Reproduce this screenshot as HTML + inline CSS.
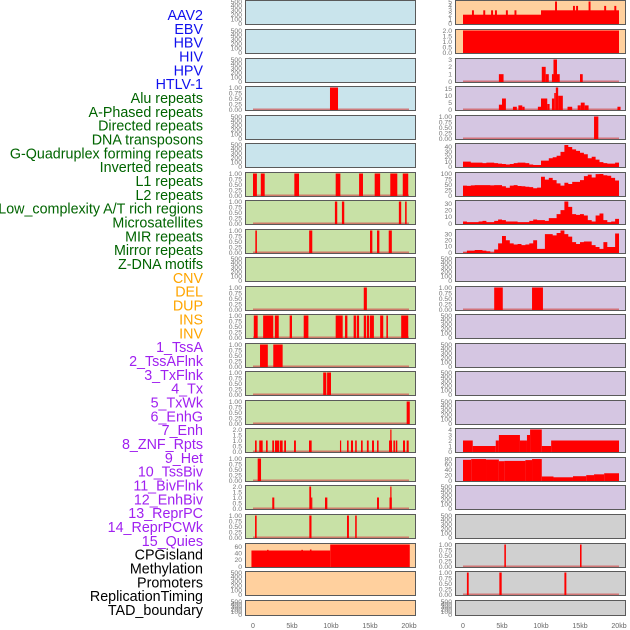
<!DOCTYPE html>
<html><head><meta charset="utf-8"><style>
body{margin:0;background:#fff;width:630px;height:630px;overflow:hidden}
svg{display:block}
</style></head><body>
<svg id="chart" width="630" height="630" viewBox="0 0 630 630" xmlns="http://www.w3.org/2000/svg"></svg>
<script>
// ---- Data (kb coordinates; [start, end, value]) ----
const trackLabels = ["AAV2","EBV","HBV","HIV","HPV","HTLV-1","Alu repeats","A-Phased repeats","Directed repeats","DNA transposons","G-Quadruplex forming repeats","Inverted repeats","L1 repeats","L2 repeats","Low_complexity A/T rich regions","Microsatellites","MIR repeats","Mirror repeats","Z-DNA motifs","CNV","DEL","DUP","INS","INV","1_TssA","2_TssAFlnk","3_TxFlnk","4_Tx","5_TxWk","6_EnhG","7_Enh","8_ZNF_Rpts","9_Het","10_TssBiv","11_BivFlnk","12_EnhBiv","13_ReprPC","14_ReprPCWk","15_Quies","CPGisland","Methylation","Promoters","ReplicationTiming","TAD_boundary"];
const labelGroups = [6,13,5,15,5];
const xTickLabels = ["0","5kb","10kb","15kb","20kb"];
const xTickValues = [0,5,10,15,20];

const L3 = [[9.87,10.9,1]];
const L6 = [[0,0.5,1],[1.0,1.5,1],[5.3,5.9,1],[10.6,11.2,1],[13.6,14.1,1],[15.6,16.3,1],[17.6,18.5,1],[19.2,19.9,1]];
const L7 = [[10.5,10.8,1],[11.4,11.7,1],[18.7,19.0,1],[19.5,19.7,1]];
const L8 = [[0.3,0.5,1],[7.2,7.6,1],[15.0,15.3,1],[15.9,16.2,1],[17.4,17.8,1]];
const L10 = [[14.2,14.6,1]];
const L11 = [[0.1,0.6,1],[1.3,2.6,1],[2.8,3.3,1],[4.7,5.0,1],[6.5,7.1,1],[10.6,11.5,1],[11.8,12.1,1],[12.9,13.2,1],[13.3,13.6,1],[14.2,14.5,1],[14.6,14.9,1],[15.0,15.5,1],[16.3,16.7,1],[17.1,17.3,1],[19.0,19.9,1]];
const L12 = [[0.9,1.9,1],[2.6,3.8,1]];
const L13 = [[9.0,9.4,1],[9.5,10.0,1]];
const L14 = [[19.7,20.1,1]];
const L15 = [[0.26,0.47,1],[0.8,1.24,1],[1.67,1.88,1],[2.47,2.7,1],[2.82,3.37,1],[3.46,3.8,1],[4.0,4.23,1],[5.26,5.5,1],[7.18,7.52,1],[11.15,11.3,1],[12.05,12.26,1],[12.56,12.82,1],[13.1,13.3,1],[13.85,14.06,1],[14.6,14.83,1],[15.26,15.51,1],[15.9,16.1,1],[17.44,17.82,1],[17.6,17.7,2],[18.0,18.2,1],[18.3,18.5,1],[19.23,19.49,1],[19.7,19.96,1]];
const L16 = [[0.6,1.03,1]];
const L17 = [[2.47,2.73,1],[7.22,7.45,2],[7.45,7.6,1],[9.23,9.53,1],[15.9,16.15,1],[17.5,17.8,1],[17.6,17.7,2]];
const L18 = [[0.26,0.47,1],[7.22,7.5,1],[12.05,12.3,1],[13.1,13.3,1]];
const L19 = [[-0.2,9.9,48],[1.8,2.0,50],[6.2,6.4,50],[7.3,7.5,51],[9.9,20.1,66]];

const R0 = [[0,10,2],[10,20,3],[1.15,1.4,3],[2.6,2.85,3],[3.6,3.85,3],[4.1,4.35,3],[5.5,5.75,3],[6.6,6.85,3],[11.8,12.05,5],[14.1,14.35,4],[14.5,14.75,4],[16.1,16.35,5],[18.1,18.35,4],[19.4,19.65,4]];
const R1 = [[0,20,2]];
const R2 = [[4.6,5.2,1],[10.1,10.6,2],[10.6,11.0,1],[11.4,11.6,1],[11.6,12.05,3],[12.05,12.4,1],[15.0,15.35,1]];
const R3 = [[4.6,5.0,3.5],[5.0,5.5,8],[6.4,6.9,2],[7.1,7.6,3],[7.6,7.9,2],[9.6,10.0,2],[10.0,10.8,8],[10.8,11.1,4],[11.4,11.7,8],[11.7,11.9,12],[11.9,12.2,16],[12.2,12.8,10],[13.4,14.0,2],[14.7,15.1,3],[15.1,15.6,5],[15.6,16.1,3],[19.8,20.2,2]];
const R4 = [[16.8,17.35,1]];
const R5 = [10,10,8,8,8,7,8,8,7,6,5,4,5,7,8,8,7,4,3,3,12,12,17,19,22,30,44,40,35,32,28,25,17,20,14,9,7,6,6,8];
const R6 = [45,44,46,47,47,47,47,46,47,47,42,35,45,47,43,42,40,38,33,36,85,72,80,70,55,45,58,52,62,62,70,88,95,82,97,98,92,90,80,68];
const R7 = [3,2,2,2,3,4,2,2,4,6,5,3,3,3,2,2,2,4,6,5,5,4,8,8,14,20,33,25,14,13,14,12,5,3,12,15,5,2,3,7];
const R8 = [0,3,3,4,4,3,2,0,5,15,27,20,15,13,14,12,13,15,20,6,6,30,30,28,32,36,30,26,17,14,17,18,18,12,9,6,17,9,9,31];
const R10 = [[4.0,5.1,1],[8.85,10.25,1]];
const R15 = [[0,1.25,2],[1.25,4.2,1],[4.2,4.6,2],[4.6,7.3,3],[7.3,8.2,2],[8.2,8.6,3],[8.6,10.1,4],[10.1,11.3,1],[11.3,20,2]];
const R16 = [[0,1.05,77],[1.05,2.95,80],[2.95,4.6,78],[4.6,5.3,72],[5.3,8.0,73],[8.0,8.85,76],[8.85,10.1,80],[10.1,11.6,15],[11.6,14.1,12],[14.1,15.8,16],[15.8,16.8,20],[16.8,18.1,23],[18.1,20,27]];
const R19 = [[5.3,5.5,1],[15.0,15.2,1]];
const R20 = [[0.5,0.73,1],[4.66,4.96,1],[13.0,13.25,1]];

const T_EMPTY = ["0","100","200","300","400","500"], V_EMPTY=[0,100,200,300,400,500];
const T_BIN = ["0.00","0.25","0.50","0.75","1.00"], V_BIN=[0,0.25,0.5,0.75,1];

const NS="http://www.w3.org/2000/svg";
const svg=document.getElementById('chart');
function mk(tag,attrs,parent){const e=document.createElementNS(NS,tag);for(const k in attrs)e.setAttribute(k,attrs[k]);(parent||svg).appendChild(e);return e;}

const tops=[0,29,58,86,115,143,172,200,229,257,286,314,343,371,400,428,457,485,514,543,571,600];
const BG={b:"#c9e4ec",g:"#c8e1a6",o:"#ffd09e",p:"#d5c6e2",y:"#d0d0d0"};
const leftBg="bbbbbbgggggggggggggooo";
const rightBg="ooppppppppppppppppyyyy";

function panelSpec(col,i){
  const L={3:L3,6:L6,7:L7,8:L8,10:L10,11:L11,12:L12,13:L13,14:L14,15:L15,16:L16,17:L17,18:L18,19:L19};
  const R={0:R0,1:R1,2:R2,3:R3,4:R4,10:R10,15:R15,16:R16,19:R19,20:R20};
  const RA={5:[R5,45,[0,10,20,30,40]],6:[R6,100,[0,25,50,75,100]],7:[R7,33,[0,10,20,30]],8:[R8,36,[0,10,20,30]]};
  if(col===0){
    const s=L[i];
    if(!s) return {type:"empty"};
    if(i===15||i===17) return {type:"seg",segs:s,ymax:2,ticks:[0,0.5,1,1.5,2],lab:["0.0","0.5","1.0","1.5","2.0"]};
    if(i===19) return {type:"seg",segs:s,ymax:66,ticks:[0,20,40,60],lab:["0","20","40","60"],noBase:true};
    return {type:"seg",segs:s,ymax:1,ticks:V_BIN,lab:T_BIN};
  } else {
    if(RA[i]){const a=RA[i];return {type:"area",vals:a[0],ymax:a[1],ticks:a[2],lab:a[2].map(String)};}
    const s=R[i];
    if(!s) return {type:"empty"};
    if(i===0) return {type:"seg",segs:s,ymax:5,ticks:[0,1,2,3,4,5],lab:["0","1","2","3","4","5"],noBase:true};
    if(i===1) return {type:"seg",segs:s,ymax:2,ticks:[0,0.5,1,1.5,2],lab:["0.0","0.5","1.0","1.5","2.0"],noBase:true};
    if(i===2) return {type:"seg",segs:s,ymax:3,ticks:[0,1,2,3],lab:["0","1","2","3"]};
    if(i===3) return {type:"seg",segs:s,ymax:16,ticks:[0,5,10,15],lab:["0","5","10","15"]};
    if(i===15) return {type:"seg",segs:s,ymax:4,ticks:[0,1,2,3,4],lab:["0","1","2","3","4"],noBase:true};
    if(i===16) return {type:"seg",segs:s,ymax:82,ticks:[0,20,40,60,80],lab:["0","20","40","60","80"],noBase:true};
    return {type:"seg",segs:s,ymax:1,ticks:V_BIN,lab:T_BIN};
  }
}

let gi=0,cnt=0;const colors=["#1010ee","#006400","#ffa500","#a020f0","#000"];
trackLabels.forEach((t,k)=>{
  while(cnt>=labelGroups[gi]){cnt=0;gi++;}
  cnt++;
  const y=15+k*(595/43);
  const e=mk('text',{x:203,y:y+5,'text-anchor':'end','font-family':'Liberation Sans, sans-serif','font-size':'14.3',fill:colors[gi]});
  e.textContent=t;
  
  
});

[0,1].forEach(col=>{
  const pl=col===0?245:455, pw=171, x0=pl+8, kbw=156/20;
  const xs=kb=>x0+kb*kbw;
  tops.forEach((top,i)=>{
    const h=i===21?16:25;
    const bg=(col===0?leftBg:rightBg)[i];
    const g=mk('g',{});
    
    
    mk('rect',{x:pl,y:top,width:pw,height:h,fill:BG[bg]},g);
    const sp=panelSpec(col,i);
    const bot=top+h-1.5, ph=h-3;
    let ticks=V_EMPTY,lab=T_EMPTY,ymax=500;
    if(sp.type!=="empty"){ticks=sp.ticks;lab=sp.lab;ymax=sp.ymax;}
    const ys=v=>bot-v/ymax*ph;
    if(sp.type!=="empty"&&!sp.noBase){
      const b=mk('rect',{x:xs(0),y:bot-1,width:xs(20)-xs(0),height:2,fill:"#d05050",opacity:0.7},g);
      
      
    }
    if(sp.type==="seg"){
      sp.segs.forEach(s=>{
        const y1=Math.max(ys(s[2]),top);
        const r=mk('rect',{x:xs(s[0]),y:y1,width:Math.max(xs(s[1])-xs(s[0]),1.2),height:bot-y1+1,fill:"#ff0000"},g);
        
        
      });
    } else if(sp.type==="area"){
      let d="M"+xs(0)+","+(bot+1);
      sp.vals.forEach((v,k)=>{const y=Math.max(ys(v),top);d+=" L"+xs(k*0.5)+","+y+" L"+xs(k*0.5+0.5)+","+y;});
      d+=" L"+xs(20)+","+(bot+1)+"Z";
      const p=mk('path',{d:d,fill:"#ff0000"},g);
      
      
    }
    mk('rect',{x:pl+0.5,y:top+0.5,width:pw-1,height:h-1,fill:"none",stroke:"#5a5a5a","stroke-width":1},g);
    ticks.forEach((v,k)=>{
      const y=i===21?top+h-1.5-(v/ymax)*(h-3):ys(v);
      const t=mk('text',{x:pl-3,y:y+2.3,'text-anchor':'end','font-family':'Liberation Sans, sans-serif','font-size':'6.8',fill:"#777"},g);
      t.textContent=lab[k];
      
      
    });
  });
  xTickValues.forEach((v,k)=>{
    const t=mk('text',{x:xs(v),y:628,'text-anchor':'middle','font-family':'Liberation Sans, sans-serif','font-size':'7',fill:"#666"});
    t.textContent=xTickLabels[k];
    
    
  });
});
</script>
</body></html>
